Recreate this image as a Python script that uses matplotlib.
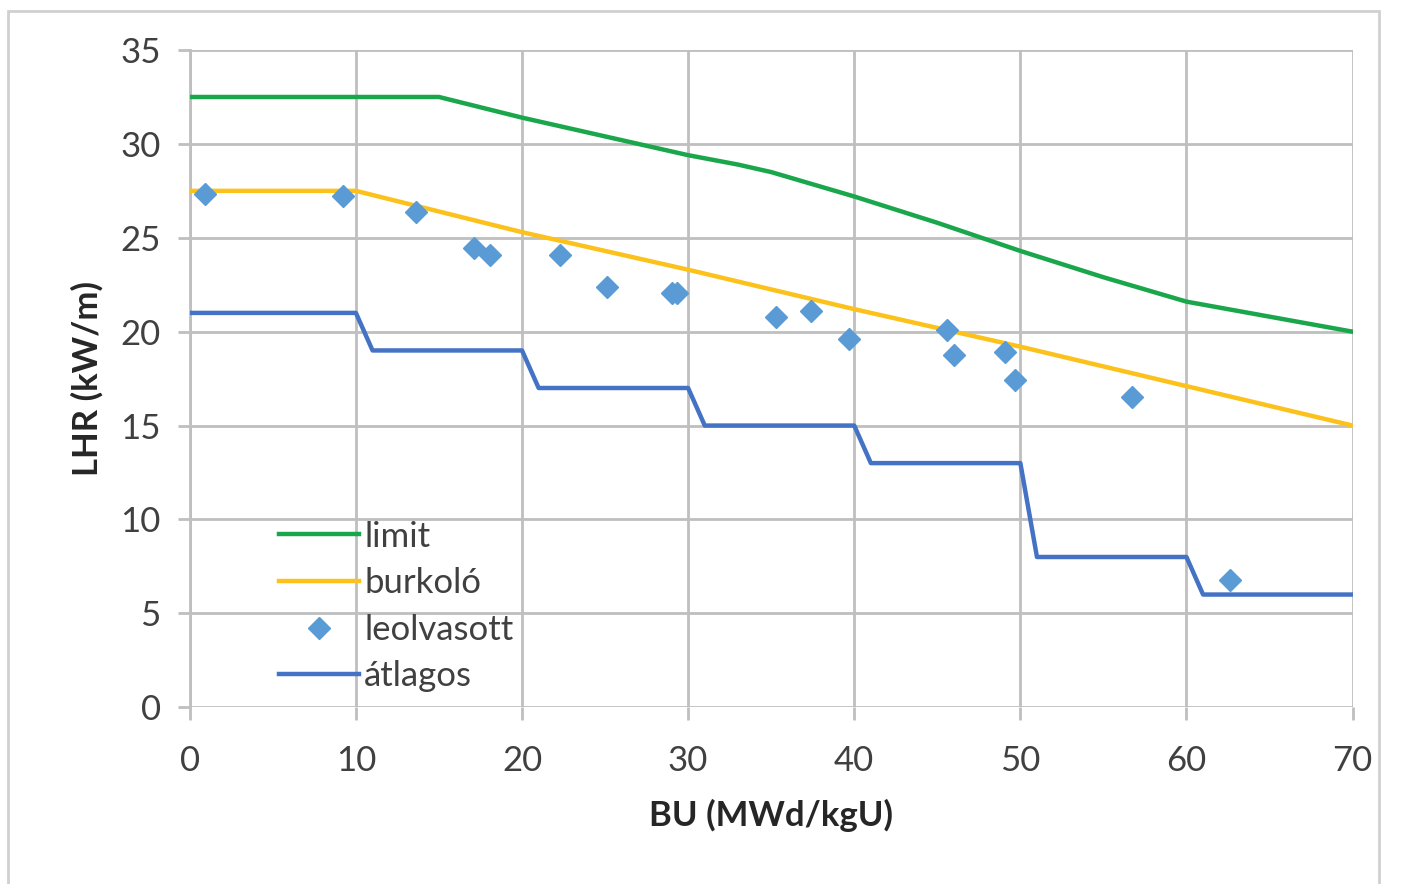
import matplotlib.pyplot as plt
from matplotlib.patches import Rectangle

# limit curve
limit_x = [0, 15, 20, 25, 30, 33, 35, 40, 45, 50, 55, 60, 65, 70]
limit_y = [32.5, 32.5, 31.4, 30.4, 29.4, 28.9, 28.5, 27.2, 25.8, 24.3, 22.9, 21.6, 20.8, 20.0]

# burkolo (envelope)
burk_x = [0, 10, 20, 30, 40, 50, 60, 70]
burk_y = [27.5, 27.5, 25.3, 23.3, 21.2, 19.2, 17.1, 15.0]

# leolvasott (read points)
pts_x = [0.9, 9.2, 13.6, 17.1, 18.1, 22.3, 25.1, 29.0, 29.3, 35.3, 37.4, 39.7,
         45.6, 46.0, 49.1, 49.7, 56.7, 62.6]
pts_y = [27.35, 27.2, 26.4, 24.45, 24.1, 24.1, 22.4, 22.05, 22.05, 20.8, 21.1, 19.6,
         20.1, 18.75, 18.9, 17.4, 16.5, 6.8]

# atlagos (average) stepped line
avg_x = [0, 10, 11, 20, 21, 30, 31, 40, 41, 50, 51, 60, 61, 70]
avg_y = [21, 21, 19, 19, 17, 17, 15, 15, 13, 13, 8, 8, 6, 6]

plt.rcParams['font.family'] = ['Lato', 'DejaVu Sans']

fig = plt.figure(figsize=(14.06, 8.84), dpi=100)
ax = fig.add_axes([0.135, 0.2, 0.827, 0.7434])

# light outer frame like the pasted chart box
fig.patches.append(Rectangle((0.006, -0.02), 0.975, 1.007, transform=fig.transFigure,
                             fill=False, edgecolor='#d0d0d0', linewidth=2))

ax.plot(limit_x, limit_y, color='#1aa64a', lw=3.2, label='limit', zorder=3)
ax.plot(burk_x, burk_y, color='#fcc21b', lw=3.2, label='burkoló', zorder=3)
ax.plot(pts_x, pts_y, 'D', color='#5b9bd5', ms=11, label='leolvasott', zorder=4)
ax.plot(avg_x, avg_y, color='#4472c4', lw=3.2, label='átlagos', zorder=3)

ax.set_xlim(0, 70)
ax.set_ylim(0, 35)
ax.set_xticks(range(0, 71, 10))
ax.set_yticks(range(0, 36, 5))
ax.grid(True, color='#bfbfbf', lw=2)
ax.set_axisbelow(True)
for s in ['top', 'right', 'bottom']:
    ax.spines[s].set_visible(False)
ax.spines['left'].set_color('#bfbfbf')
ax.spines['left'].set_linewidth(2)
ax.tick_params(axis='both', colors='#bfbfbf', width=2, length=9, labelsize=25,
               labelcolor='#404040')
ax.tick_params(axis='x', pad=18)
ax.tick_params(axis='y', pad=12)

ax.set_xlabel('BU (MWd/kgU)', fontsize=25, fontweight='bold', color='#262626', labelpad=16)
ax.set_ylabel('LHR (kW/m)', fontsize=25, fontweight='bold', color='#262626', labelpad=12)

ax.legend(loc='lower left', bbox_to_anchor=(0.05, -0.025), frameon=False, fontsize=25,
          handlelength=2.3, handletextpad=0.15, labelspacing=0.42, labelcolor='#404040')

fig.savefig('out.png', dpi=100)
